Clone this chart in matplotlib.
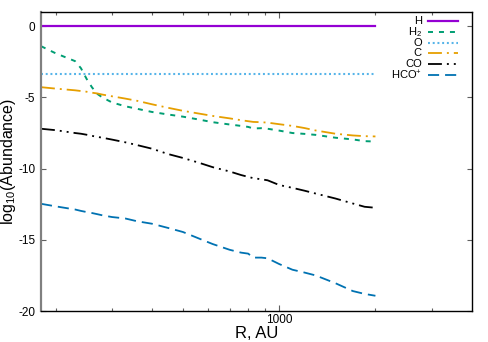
import matplotlib
matplotlib.use("Agg")
import matplotlib.pyplot as plt
from matplotlib.lines import Line2D
from matplotlib.ticker import NullFormatter

plt.rcParams['font.family'] = ['Liberation Sans', 'DejaVu Sans']
plt.rcParams['mathtext.fontset'] = 'custom'
plt.rcParams['mathtext.rm'] = 'Liberation Sans'
plt.rcParams['mathtext.it'] = 'Liberation Sans:italic'
plt.rcParams['mathtext.bf'] = 'Liberation Sans:bold'
plt.rcParams['lines.scale_dashes'] = False

# ---- data ----
R = [180, 200, 230, 240, 250, 260, 270, 280, 300, 330, 360, 400, 450, 500,
     560, 620, 700, 760, 800, 830, 880, 920, 1000, 1100, 1200, 1300, 1500,
     1700, 1850, 2000]
H = [0.0] * len(R)
H2 = [-1.4, -1.9, -2.45, -2.95, -3.7, -4.3, -4.75, -5.0, -5.35, -5.62, -5.8,
      -6.02, -6.2, -6.35, -6.55, -6.74, -6.9, -7.0, -7.07, -7.18, -7.16, -7.2,
      -7.33, -7.5, -7.56, -7.63, -7.83, -7.95, -8.07, -8.1]
O = [-3.33] * len(R)
C = [-4.28, -4.38, -4.5, -4.55, -4.6, -4.67, -4.72, -4.8, -4.92, -5.08, -5.24,
     -5.48, -5.73, -5.94, -6.13, -6.3, -6.47, -6.6, -6.67, -6.72, -6.74, -6.77,
     -6.88, -7.0, -7.15, -7.32, -7.55, -7.67, -7.72, -7.74]
CO = [-7.2, -7.3, -7.5, -7.55, -7.62, -7.7, -7.77, -7.83, -7.96, -8.15, -8.35,
      -8.6, -8.98, -9.25, -9.58, -9.9, -10.2, -10.45, -10.58, -10.67, -10.75,
      -10.82, -11.15, -11.35, -11.55, -11.75, -12.1, -12.45, -12.68, -12.75]
HCOp = [-12.47, -12.65, -12.87, -12.97, -13.05, -13.12, -13.2, -13.28, -13.4,
        -13.5, -13.7, -13.87, -14.17, -14.45, -14.9, -15.3, -15.7, -15.9,
        -15.97, -16.25, -16.25, -16.3, -16.7, -17.1, -17.3, -17.5, -18.05,
        -18.6, -18.8, -18.93]

labels = ['H', 'H$_2$', 'O', 'C', 'CO', 'HCO$^{+}$']
series = [H, H2, O, C, CO, HCOp]
colors = ['#9400d3', '#009e73', '#56b4e9', '#e69f00', '#000000', '#0072b2']
styles = ['-', (0, (3.6, 4.3)), (0, (1.4, 2.0)), (0, (10, 3.6, 1.4, 3.6)),
          (0, (10, 3.6, 1.4, 3.6, 1.4, 3.6)), (0, (8, 4.3))]
widths = [1.6, 1.4, 1.5, 1.3, 1.3, 1.3]

W, Hh = 489, 342
fig = plt.figure(figsize=(W / 100, Hh / 100), dpi=100)
ax = fig.add_axes([41 / W, (Hh - 311) / Hh, (471.7 - 41) / W, (311 - 12) / Hh])

for y, c, ls, lw in zip(series, colors, styles, widths):
    ax.plot(R, y, color=c, linestyle=ls, linewidth=lw)

ax.set_xscale('log')
ax.set_xlim(180, 4000)
ax.set_ylim(-20, 1)
ax.set_xticks([1000])
ax.set_xticklabels(['1000'])
ax.set_xticks([200, 300, 400, 500, 600, 700, 800, 900, 2000, 3000], minor=True)
ax.xaxis.set_minor_formatter(NullFormatter())
ax.set_yticks([0, -5, -10, -15, -20])
ax.set_yticklabels(['0', '-5', '-10', '-15', '-20'])
ax.tick_params(axis='both', which='both', direction='in', top=True, right=True,
               labelsize=8.5, width=0.8, color='#606060')
ax.tick_params(axis='x', which='major', length=4, pad=2.5)
ax.tick_params(axis='x', which='minor', length=2.5)
ax.tick_params(axis='y', which='major', length=3.5, pad=4)

for s in ['top', 'right', 'bottom']:
    ax.spines[s].set_linewidth(1.0)
    ax.spines[s].set_color('black')
ax.spines['left'].set_linewidth(1.6)
ax.spines['left'].set_color('#808080')

ax.set_xlabel('R, AU', fontsize=12, labelpad=0)
ax.set_ylabel('log$_{10}$(Abundance)', fontsize=11.5, labelpad=0)

# legend (right-aligned labels, gnuplot style)
row_y = [20.7, 31.7, 42.7, 53.3, 64.3, 75.0]
for lab, c, ls, lw, yy in zip(labels, colors, styles, widths, row_y):
    fy = (Hh - yy) / Hh
    fig.text(422 / W, fy, lab, ha='right', va='center', fontsize=8)
    fig.add_artist(Line2D([428 / W, 458 / W], [fy, fy], color=c, linestyle=ls,
                          linewidth=lw, transform=fig.transFigure))

fig.savefig('out.png', dpi=100)
